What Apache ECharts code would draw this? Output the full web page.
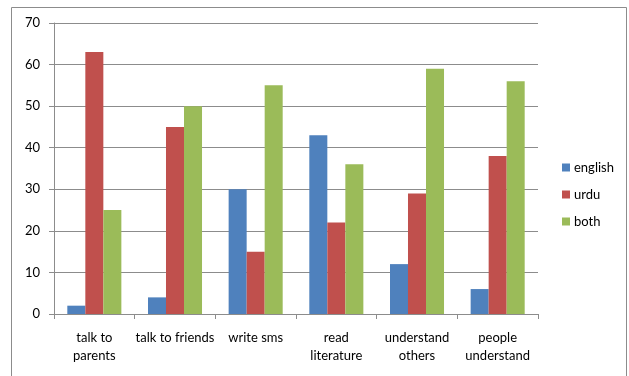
<!DOCTYPE html>
<html>
<head>
<meta charset="utf-8">
<script src="https://cdn.jsdelivr.net/npm/echarts@6/dist/echarts.min.js"></script>
<style>
  html, body { margin: 0; padding: 0; background: #fff; }
  #chart { width: 629px; height: 376px; }
</style>
</head>
<body>
<div id="chart"></div>
<script>
const categories = [
  "talk to\nparents",
  "talk to friends",
  "write sms",
  "read\nliterature",
  "understand\nothers",
  "people\nunderstand",
];
const english = [2, 4, 30, 43, 12, 6];
const urdu = [63, 45, 15, 22, 29, 38];
const both = [25, 50, 55, 36, 59, 56];

const FONT = "Lato, 'Liberation Sans', sans-serif";
const gridColor = "#8c8c8c";

const chart = echarts.init(document.getElementById("chart"), null, { renderer: "canvas" });

function bar(name, data, color) {
  return {
    name,
    type: "bar",
    data,
    barGap: "0%",
    barCategoryGap: "33%",
    itemStyle: { color },
  };
}

chart.setOption({
  animation: false,
  textStyle: { fontFamily: FONT },
  graphic: [
    {
      type: "rect",
      shape: { x: 11.5, y: 7.5, width: 615, height: 380 },
      style: { fill: "none", stroke: "#8c8c8c", lineWidth: 1 },
      silent: true,
    },
  ],
  grid: { left: 54, right: 91, top: 23, bottom: 62 },
  legend: {
    orient: "vertical",
    left: 557,
    top: 156,
    itemWidth: 8,
    itemHeight: 8,
    itemGap: 14,
    icon: "rect",
    textStyle: { fontFamily: FONT, fontSize: 13, color: "#000", padding: [0, 0, 0, -1] },
    data: ["english", "urdu", "both"],
  },
  xAxis: {
    type: "category",
    data: categories,
    axisLine: { lineStyle: { color: gridColor } },
    axisTick: { show: true, length: 5, lineStyle: { color: gridColor } },
    axisLabel: {
      color: "#000",
      fontFamily: FONT,
      fontSize: 13,
      margin: 15,
      lineHeight: 18,
      interval: 0,
    },
  },
  yAxis: {
    type: "value",
    min: 0,
    max: 70,
    interval: 10,
    axisLine: { show: true, lineStyle: { color: gridColor } },
    axisTick: { show: true, length: 5, lineStyle: { color: gridColor } },
    axisLabel: { color: "#000", fontFamily: FONT, fontSize: 13, margin: 14 },
    splitLine: { lineStyle: { color: gridColor } },
  },
  series: [
    bar("english", english, "#4f81bd"),
    bar("urdu", urdu, "#c0504d"),
    bar("both", both, "#9bbb59"),
  ],
});
</script>
</body>
</html>
